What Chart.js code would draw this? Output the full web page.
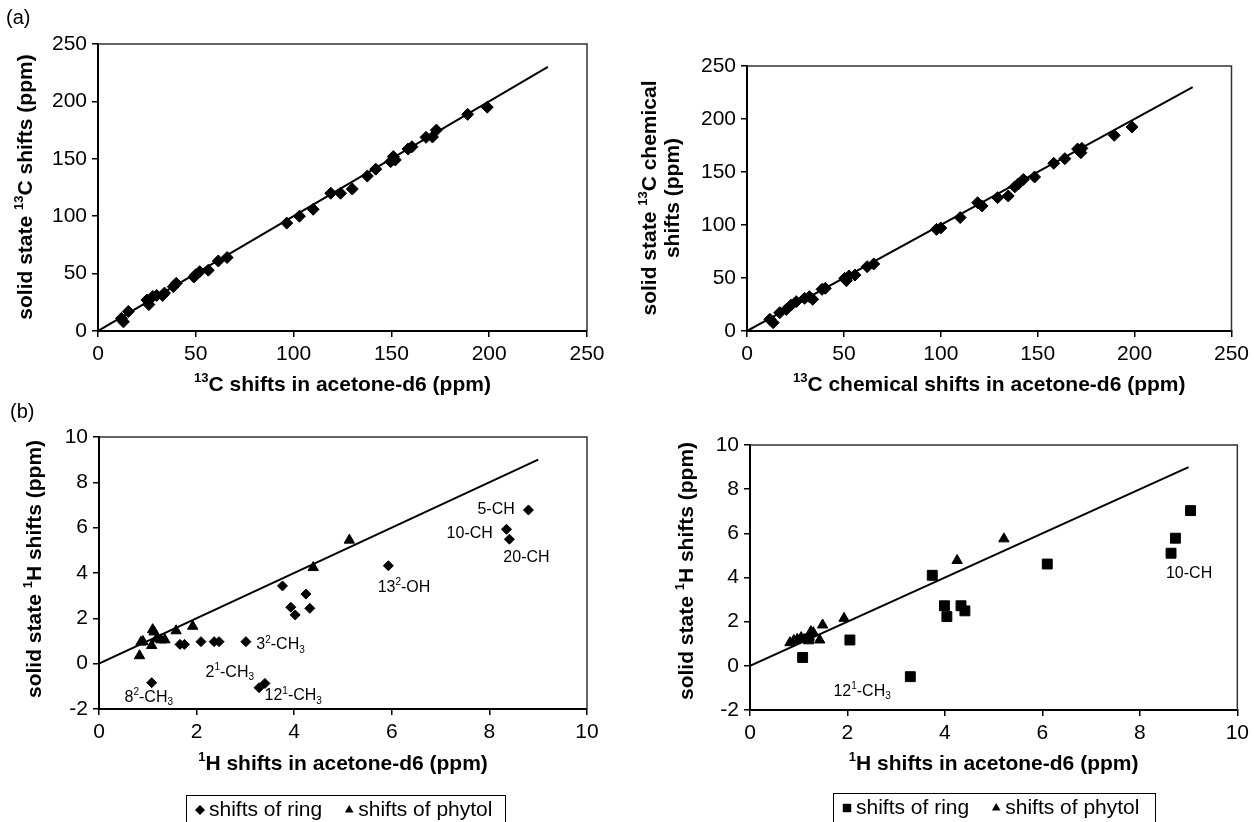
<!DOCTYPE html>
<html lang="en">
<head>
<meta charset="UTF-8">
<title>Solid state vs acetone-d6 chemical shifts</title>
<script src="https://cdn.jsdelivr.net/npm/chart.js"></script>
<style>
  body { margin: 0; background: #fff; width: 1254px; height: 822px; position: relative; overflow: hidden; }
  canvas { position: absolute; }
</style>
</head>
<body>
<canvas id="panelA" width="627" height="400" style="left:0;top:0"></canvas>
<canvas id="panelB" width="627" height="400" style="left:627px;top:0"></canvas>
<canvas id="panelC" width="627" height="422" style="left:0;top:400px"></canvas>
<canvas id="panelD" width="627" height="422" style="left:627px;top:400px"></canvas>
<script>
// ---- data ----
// (a) left: 13C shifts, acetone-d6 vs solid state
const c13AcetoneA = [12, 13, 15.5, 25, 26, 28, 30, 33, 34, 38.5, 40, 49, 50, 52, 56.4, 61.5, 66, 96.5, 103, 110, 119, 124, 130, 137.7, 142, 149.6, 151, 152, 158.5, 160.5, 167.7, 171, 173, 189, 199];
const c13SolidA   = [11, 8, 17, 27, 23, 30, 31, 31, 33, 38.6, 41.5, 47, 49, 51.7, 53, 61, 64, 94, 100, 106, 120, 120, 123.7, 135, 141, 147.5, 152, 149, 158.5, 160.5, 168.7, 169, 175, 188.7, 195];
// (a) right: 13C chemical shifts
const c13AcetoneB = [11.8, 13.5, 16.9, 20.3, 22.8, 25.4, 29.7, 32.2, 33.9, 38.7, 40.4, 50.4, 51.3, 52.7, 55.7, 62, 65.4, 97.8, 100, 110, 119, 121.3, 129.3, 134.8, 138.2, 140, 142.6, 148.4, 158.3, 164, 170.6, 172.8, 172.3, 189.5, 198.7];
const c13SolidB   = [11, 7.9, 17.3, 20.4, 24.5, 27.7, 30.8, 32.4, 29.9, 39.3, 40.3, 49.7, 47.5, 51.9, 52.8, 60.7, 63.2, 95.9, 97.2, 107, 121, 118, 125.8, 127.4, 136, 138.7, 143, 145.3, 158.2, 162.6, 171.7, 172.3, 168.2, 184.6, 192.5];
// (b) left: 1H shifts
const h1RingAcetoneC   = [1.08, 1.66, 1.75, 2.09, 2.36, 2.46, 3.01, 3.28, 3.4, 3.76, 3.93, 4.02, 4.24, 4.32, 5.93, 8.8, 8.35, 8.41];
const h1RingSolidC     = [-0.84, 0.85, 0.85, 0.97, 0.97, 0.97, 0.97, -1.06, -0.87, 3.43, 2.49, 2.15, 3.07, 2.44, 4.32, 6.78, 5.93, 5.49];
const h1PhytolAcetoneC = [0.83, 0.86, 0.9, 1.08, 1.1, 1.13, 1.18, 1.27, 1.35, 1.58, 1.92, 4.39, 5.13];
const h1PhytolSolidC   = [0.35, 0.95, 0.98, 0.8, 1.5, 1.4, 1.1, 1.05, 1.05, 1.45, 1.65, 4.24, 5.45];
// (b) right: 1H shifts
const h1RingAcetoneD   = [1.08, 1.2, 2.05, 3.29, 3.74, 3.99, 4.04, 4.33, 4.41, 6.1, 8.64, 8.73, 9.04];
const h1RingSolidD     = [0.38, 1.22, 1.17, -0.49, 4.1, 2.72, 2.23, 2.72, 2.49, 4.61, 5.1, 5.78, 7.03];
const h1PhytolAcetoneD = [0.82, 0.9, 0.97, 1.05, 1.22, 1.25, 1.3, 1.43, 1.49, 1.93, 4.25, 5.21];
const h1PhytolSolidD   = [1.05, 1.15, 1.2, 1.28, 1.3, 1.55, 1.5, 1.17, 1.85, 2.15, 4.77, 5.75];
// x = y reference lines
const c13LineEnds = [0, 230];
const h1LineEnds = [0, 9];
// tick labels
const c13Ticks = [0, 50, 100, 150, 200, 250];
const h1XTicks = [0, 2, 4, 6, 8, 10];
const h1YTicks = [-2, 0, 2, 4, 6, 8, 10];
// point labels (text, x, y in ppm)
const notesC = [
  { text: '5-CH', x: 8.52, y: 6.78, align: 'right' },
  { text: '10-CH', x: 8.07, y: 5.76, align: 'right' },
  { text: '20-CH', x: 8.76, y: 4.7, align: 'center' },
  { text: '13^{2}-OH', x: 6.25, y: 3.36, align: 'center' },
  { text: '3^{2}-CH_{3}', x: 3.72, y: 0.82, align: 'center' },
  { text: '2^{1}-CH_{3}', x: 2.68, y: -0.4, align: 'center' },
  { text: '12^{1}-CH_{3}', x: 3.98, y: -1.43, align: 'center' },
  { text: '8^{2}-CH_{3}', x: 1.02, y: -1.48, align: 'center' }
];
const notesD = [
  { text: '10-CH', x: 9.01, y: 4.16, align: 'center' },
  { text: '12^{1}-CH_{3}', x: 2.3, y: -1.17, align: 'center' }
];

const FONT = '"Liberation Sans", Arial, Helvetica, sans-serif';

function pts(xs, ys) {
  return xs.map((x, i) => ({ x: x, y: ys[i] }));
}

// draw text with ^{sup} and _{sub} parts
function parseRich(s) {
  const parts = [];
  const re = /([\^_])\{([^}]*)\}/g;
  let last = 0, m;
  while ((m = re.exec(s))) {
    if (m.index > last) parts.push({ t: s.slice(last, m.index), k: '' });
    parts.push({ t: m[2], k: m[1] });
    last = re.lastIndex;
  }
  if (last < s.length) parts.push({ t: s.slice(last), k: '' });
  return parts;
}

function drawRich(ctx, str, x, y, size, weight, align) {
  const parts = parseRich(str);
  const small = Math.round(size * 0.62);
  const fontOf = p => weight + ' ' + (p.k ? small : size) + 'px ' + FONT;
  let w = 0;
  parts.forEach(p => { ctx.font = fontOf(p); p.w = ctx.measureText(p.t).width; w += p.w; });
  let cx = align === 'center' ? x - w / 2 : align === 'right' ? x - w : x;
  ctx.textAlign = 'left';
  ctx.textBaseline = 'middle';
  parts.forEach(p => {
    ctx.font = fontOf(p);
    const dy = p.k === '^' ? -size * 0.32 : p.k === '_' ? size * 0.3 : 0;
    ctx.fillText(p.t, cx, y + dy);
    cx += p.w;
  });
  return w;
}

function decorPlugin(cfg) {
  return {
    id: 'decor',
    afterDraw(chart) {
      const ctx = chart.ctx;
      const a = chart.chartArea;
      const sx = chart.scales.x, sy = chart.scales.y;
      ctx.save();
      ctx.fillStyle = '#000';
      // top / right frame
      ctx.strokeStyle = '#333';
      ctx.lineWidth = 1.5;
      ctx.beginPath();
      ctx.moveTo(a.left, a.top);
      ctx.lineTo(a.right, a.top);
      ctx.lineTo(a.right, a.bottom);
      ctx.stroke();
      // panel tag
      if (cfg.tag) drawRich(ctx, cfg.tag.text, cfg.tag.x, cfg.tag.y, 20, 'normal', 'left');
      // axis titles
      drawRich(ctx, cfg.xTitle, (a.left + a.right) / 2, cfg.xTitleY, 21, 'bold', 'center');
      cfg.yTitle.forEach((line, i) => {
        ctx.save();
        ctx.translate(cfg.yTitleX[i], cfg.yTitleY);
        ctx.rotate(-Math.PI / 2);
        drawRich(ctx, line, 0, 0, 21, 'bold', 'center');
        ctx.restore();
      });
      // point labels
      (cfg.notes || []).forEach(n => {
        drawRich(ctx, n.text, sx.getPixelForValue(n.x), sy.getPixelForValue(n.y), 16, 'normal', n.align);
      });
      // boxed legend
      if (cfg.legend) {
        const L = cfg.legend;
        ctx.strokeStyle = '#000';
        ctx.lineWidth = 1;
        ctx.strokeRect(L.left + 0.5, L.top + 0.5, L.width, 60);
        let x = L.left + 10;
        chart.data.datasets.filter(d => d.label).forEach(d => {
          ctx.fillStyle = '#000';
          Chart.helpers.drawPoint(ctx, { pointStyle: d.pointStyle, radius: d.legendRadius, rotation: 0, borderWidth: 0 }, x + 4, L.cy);
          const w = drawRich(ctx, d.label, x + 13, L.cy, 21, 'normal', 'left');
          x += 13 + w + 23;
        });
      }
      ctx.restore();
    }
  };
}

function makeScale(min, max, tickList, fitFn) {
  return {
    type: 'linear',
    min: min,
    max: max,
    afterBuildTicks: s => { s.ticks = tickList.map(v => ({ value: v })); },
    afterFit: fitFn,
    ticks: { color: '#000', font: { family: FONT, size: 21 }, padding: 5, autoSkip: false, maxRotation: 0 },
    grid: { display: true, drawOnChartArea: false, drawTicks: true, tickLength: 6, color: '#000', lineWidth: 1.5 },
    border: { display: true, color: '#000', width: 2 }
  };
}

function makePanel(id, area, ranges, datasets, cfg) {
  const canvas = document.getElementById(id);
  const W = canvas.width, H = canvas.height;
  return new Chart(canvas, {
    type: 'scatter',
    data: { datasets: datasets },
    options: {
      responsive: false,
      animation: false,
      events: [],
      layout: { padding: { left: 0, top: area.top, right: W - area.right, bottom: 0 } },
      plugins: { legend: { display: false }, tooltip: { enabled: false } },
      scales: {
        x: makeScale(ranges.x[0], ranges.x[1], ranges.xTicks, s => { s.height = H - area.bottom; }),
        y: makeScale(ranges.y[0], ranges.y[1], ranges.yTicks, s => { s.width = area.left; })
      }
    },
    plugins: [decorPlugin(cfg)]
  });
}

function markerSet(label, data, style, r, legendR) {
  return {
    label: label, data: data, pointStyle: style, pointRadius: r,
    backgroundColor: '#000', borderColor: '#000', borderWidth: 1, legendRadius: legendR
  };
}

function lineSet(ends) {
  return {
    label: '', data: [{ x: ends[0], y: ends[0] }, { x: ends[1], y: ends[1] }],
    showLine: true, pointRadius: 0, borderColor: '#000', borderWidth: 2
  };
}

const c13Range = { x: [0, 250], y: [0, 250], xTicks: c13Ticks, yTicks: c13Ticks };
const h1Range = { x: [0, 10], y: [-2, 10], xTicks: h1XTicks, yTicks: h1YTicks };

makePanel('panelA', { left: 98, top: 44, right: 587, bottom: 331 }, c13Range, [
  markerSet('', pts(c13AcetoneA, c13SolidA), 'rectRot', 6, 0),
  lineSet(c13LineEnds)
], {
  tag: { text: '(a)', x: 6, y: 18 },
  xTitle: '^{13}C shifts in acetone-d6 (ppm)', xTitleY: 385,
  yTitle: ['solid state ^{13}C shifts (ppm)'], yTitleX: [26], yTitleY: 187
});

makePanel('panelB', { left: 120, top: 66, right: 609, bottom: 331 }, c13Range, [
  markerSet('', pts(c13AcetoneB, c13SolidB), 'rectRot', 6, 0),
  lineSet(c13LineEnds)
], {
  xTitle: '^{13}C chemical shifts in acetone-d6 (ppm)', xTitleY: 385,
  yTitle: ['solid state ^{13}C chemical', 'shifts (ppm)'], yTitleX: [23, 46], yTitleY: 198
});

makePanel('panelC', { left: 99, top: 37, right: 587, bottom: 309 }, h1Range, [
  markerSet('shifts of ring', pts(h1RingAcetoneC, h1RingSolidC), 'rectRot', 5, 5),
  markerSet('shifts of phytol', pts(h1PhytolAcetoneC, h1PhytolSolidC), 'triangle', 6, 5),
  lineSet(h1LineEnds)
], {
  tag: { text: '(b)', x: 10, y: 12 },
  xTitle: '^{1}H shifts in acetone-d6 (ppm)', xTitleY: 364,
  yTitle: ['solid state ^{1}H shifts (ppm)'], yTitleX: [35], yTitleY: 169,
  notes: notesC,
  legend: { left: 186, top: 395, width: 319, cy: 410 }
});

makePanel('panelD', { left: 123, top: 45, right: 611, bottom: 310 }, h1Range, [
  markerSet('shifts of ring', pts(h1RingAcetoneD, h1RingSolidD), 'rect', 7, 6),
  markerSet('shifts of phytol', pts(h1PhytolAcetoneD, h1PhytolSolidD), 'triangle', 6, 5),
  lineSet(h1LineEnds)
], {
  xTitle: '^{1}H shifts in acetone-d6 (ppm)', xTitleY: 364,
  yTitle: ['solid state ^{1}H shifts (ppm)'], yTitleX: [60], yTitleY: 171,
  notes: notesD,
  legend: { left: 206, top: 393, width: 322, cy: 408 }
});
</script>
</body>
</html>
